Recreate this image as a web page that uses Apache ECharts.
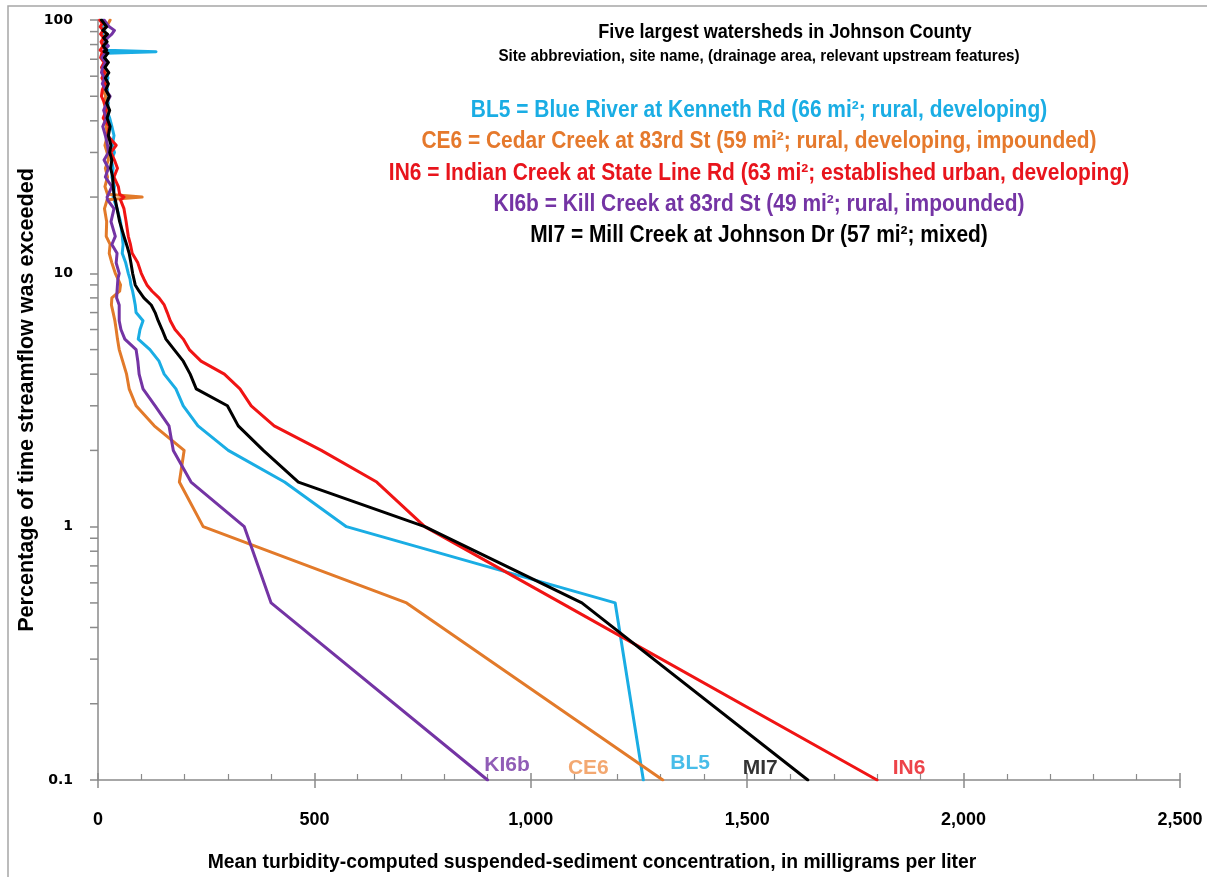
<!DOCTYPE html>
<html>
<head>
<meta charset="utf-8">
<script src="https://cdn.jsdelivr.net/npm/echarts@6/dist/echarts.min.js"></script>
<style>
html,body{margin:0;padding:0;background:#fff;}
#chart{width:1207px;height:877px;}
</style>
</head>
<body>
<div id="chart"></div>
<script>
// ---- DATA ----
var pctLevels = [100,97,94,91,88,85,82,79,76,75,74,71,68,65,62,59,56,53,50,47,44,41,38,35,32,30,28,26,24,22,20.5,20,19.5,18,16,14,13,12,11,10,9.5,9,8.5,8,7.5,7,6.5,6,5.5,5,4.5,4,3.5,3,2.5,2,1.5,1,0.5,0.1];

var bl5 = [10,14,9,16,12,18,13,17,20,134, 20,15,21,14,19,23,17,22,18,24, 20,27,32,37,33,38,31,35,32,38, 36,35,37,44,52,56,58,56,64,70, 74,76,80,83,86,88,104,97,93,120, 141,153,180,197,231,301,431,574,1195,1260];
var ce6 = [28,24,17,13,19,12,18,11,17,12, 16,10,17,12,18,13,19,12,18,14, 20,15,19,22,16,21,24,17,22,16, 22,102,21,15,20,19,28,26,32,40, 46,52,50,32,31,35,39,42,45,49, 57,66,72,88,130,199,188,243,713,1305];
var in6 = [4,10,5,12,6,13,7,12,5,10, 13,6,14,8,15,9,16,10,8,15, 19,12,26,22,42,30,38,45,37,47, 50,60,52,60,65,70,75,79,92,100, 106,113,125,141,153,160,167,178,197,211, 238,292,328,354,407,516,644,755,1070,1800];
var ki6b = [14,20,26,38,32,22,16,24,14,10, 16,9,17,11,8,15,10,18,28,20, 13,19,11,17,22,24,14,24,17,32, 24,21,22,37,30,40,32,44,42,49, 46,45,44,43,49,49,49,53,62,88, 92,95,104,132,164,174,215,338,400,900];
var mi7 = [8,14,20,11,22,13,21,12,20,14, 23,15,24,16,25,17,24,18,26,20, 27,21,28,24,30,27,32,29,34,35, 37,38,40,44,50,60,66,72,76,80, 83,86,95,106,123,132,139,148,157,176, 197,213,227,299,324,382,463,755,1118,1640];

var seriesNames = ['BL5','CE6','IN6','KI6b','MI7'];
var seriesValues = [bl5, ce6, in6, ki6b, mi7];

var xTickLabels = {0:'0',500:'500',1000:'1,000',1500:'1,500',2000:'2,000',2500:'2,500'};
var yTickLabels = {'-1':'0.1','0':'1','1':'10','2':'100'};
var yMinorTicks = [0.2,0.3,0.4,0.5,0.6,0.7,0.8,0.9,2,3,4,5,6,7,8,9,20,30,40,50,60,70,80,90];

var legendLines = [
  'BL5 = Blue River at Kenneth Rd (66 mi\u00b2; rural, developing)',
  'CE6 = Cedar Creek at 83rd St (59 mi\u00b2; rural, developing, impounded)',
  'IN6 = Indian Creek at State Line Rd (63 mi\u00b2; established urban, developing)',
  'KI6b = Kill Creek at 83rd St (49 mi\u00b2; rural, impounded)',
  'MI7 = Mill Creek at Johnson Dr (57 mi\u00b2; mixed)'
];
var titleText = 'Five largest watersheds in Johnson County';
var subtitleText = 'Site abbreviation, site name, (drainage area, relevant upstream features)';
var xTitle = 'Mean turbidity-computed suspended-sediment concentration, in milligrams per liter';
var yTitle = 'Percentage of time streamflow was exceeded';

// ---- STYLE / LAYOUT ----
var colors = {BL5:'#1AADE4', CE6:'#E27A2A', IN6:'#F01414', KI6b:'#7434A4', MI7:'#000000'};
var textColors = {BL5:'#1AADE4', CE6:'#E5792C', IN6:'#E8141C', KI6b:'#7434A4', MI7:'#000000'};
var endLabelColors = {BL5:'#1AADE4', CE6:'#F0924E', IN6:'#E8141C', KI6b:'#7434A4', MI7:'#000000'};
var endLabelPos = {KI6b:[945,0.1145], CE6:[1133,0.111], BL5:[1368,0.117], MI7:[1530,0.111], IN6:[1874,0.111]};
var NARROW = "'Liberation Sans','Arial',sans-serif";
var AXISGREY = '#8a8a8a';

var chart = echarts.init(document.getElementById('chart'), null, {renderer:'canvas'});

var series = seriesNames.map(function(n, i){
  return {
    name:n, type:'line', xAxisIndex:0, yAxisIndex:0,
    data: seriesValues[i].map(function(v, j){ return [v, pctLevels[j]]; }),
    showSymbol:false, symbol:'none', smooth:false,
    lineStyle:{color:colors[n], width:3, join:'round', cap:'round'},
    z: 3 + i, animation:false
  };
});

series.push({
  type:'custom', xAxisIndex:0, yAxisIndex:0, silent:true, clip:false, animation:false,
  data: yMinorTicks.map(function(v){ return [0, v]; }),
  renderItem: function(params, api){
    var p = api.coord([0, api.value(1)]);
    return {type:'line', shape:{x1:p[0]-8, y1:p[1], x2:p[0], y2:p[1]}, style:{stroke:AXISGREY, lineWidth:1.5}};
  }
});

series.push({
  type:'scatter', xAxisIndex:0, yAxisIndex:0, silent:true, animation:false, symbolSize:0,
  data: seriesNames.map(function(n){ return {name:n, value:endLabelPos[n], label:{color:endLabelColors[n]}}; }),
  label:{show:true, position:'inside', formatter:function(p){return p.name;},
    fontFamily:NARROW, fontWeight:'bold', fontSize:21},
  z: 10
});

function txt(x, y, s, size, fill, sx){
  return {type:'text', x:x, y:y, scaleX: sx || 1,
    style:{text:s, font:'bold '+size+'px '+NARROW, fill:fill, textAlign:'center', textVerticalAlign:'middle'}};
}

var graphics = [
  {type:'rect', shape:{x:8, y:6, width:1300, height:1000}, style:{fill:'none', stroke:'#a6a6a6', lineWidth:1.5}, silent:true, z:0},
  txt(785, 32, titleText, 21, '#000', 0.86),
  txt(759, 57, subtitleText, 16, '#000', 0.95),
  txt(592, 862, xTitle, 21, '#000', 0.92),
  {type:'text', x:27, y:400, rotation:Math.PI/2, scaleX:0.98,
    style:{text:yTitle, font:'bold 22px '+NARROW, fill:'#000', textAlign:'center', textVerticalAlign:'middle'}}
];
var legendY = [111,142,174,205,236];
legendLines.forEach(function(t, i){
  graphics.push(txt(759, legendY[i], t, 23, textColors[seriesNames[i]], 0.91));
});

chart.setOption({
  animation:false,
  backgroundColor:'#ffffff',
  grid:{left:98, top:20, width:1082, height:760, containLabel:false},
  xAxis:[{
    type:'value', min:0, max:2500, interval:500, position:'bottom',
    axisLine:{show:true, onZero:false, lineStyle:{color:AXISGREY, width:1.5}},
    axisTick:{show:true, inside:false, length:8, lineStyle:{color:AXISGREY, width:1.5}},
    axisLabel:{show:true, margin:31, fontFamily:NARROW, fontWeight:'bold', fontSize:18, color:'#000',
      formatter:function(v){ return xTickLabels[v] !== undefined ? xTickLabels[v] : ''; }},
    splitLine:{show:false}
  },{
    type:'value', min:0, max:2500, interval:500, position:'bottom',
    axisLine:{show:false, onZero:false},
    axisTick:{show:true, inside:true, length:7, lineStyle:{color:AXISGREY, width:1.5}},
    minorTick:{show:true, splitNumber:5, length:6, lineStyle:{color:AXISGREY, width:1.2}},
    axisLabel:{show:false}, splitLine:{show:false}
  }],
  yAxis:[{
    type:'log', logBase:10, min:0.1, max:100,
    axisLine:{show:true, onZero:false, lineStyle:{color:AXISGREY, width:1.5}},
    axisTick:{show:true, inside:false, length:8, lineStyle:{color:AXISGREY, width:1.5}},
    axisLabel:{show:true, margin:25, fontFamily:"'DejaVu Sans',sans-serif", fontWeight:'bold', fontSize:14, color:'#000',
      formatter:function(v){ var k = String(Math.round(Math.log(v)/Math.LN10)); return yTickLabels[k] || ''; }},
    splitLine:{show:false}, minorTick:{show:false}
  }],
  series: series,
  graphic: graphics
});
</script>
</body>
</html>
